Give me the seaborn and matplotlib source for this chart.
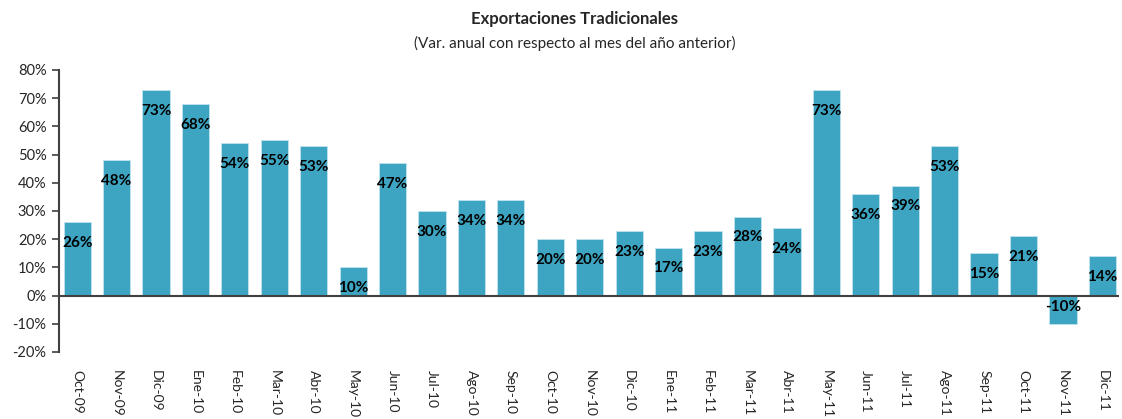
import pandas as pd
import matplotlib.pyplot as plt
import seaborn as sns
from matplotlib.ticker import FuncFormatter

# data
meses = ['Oct-09', 'Nov-09', 'Dic-09', 'Ene-10', 'Feb-10', 'Mar-10', 'Abr-10', 'May-10', 'Jun-10',
         'Jul-10', 'Ago-10', 'Sep-10', 'Oct-10', 'Nov-10', 'Dic-10', 'Ene-11', 'Feb-11', 'Mar-11',
         'Abr-11', 'May-11', 'Jun-11', 'Jul-11', 'Ago-11', 'Sep-11', 'Oct-11', 'Nov-11', 'Dic-11']
variacion = [26, 48, 73, 68, 54, 55, 53, 10, 47, 30, 34, 34, 20, 20, 23, 17, 23, 28, 24,
             73, 36, 39, 53, 15, 21, -10, 14]

df = pd.DataFrame({'mes': meses, 'var': variacion})

sns.set_theme(style="white")
plt.rcParams['font.family'] = ['Lato', 'DejaVu Sans']

fig = plt.figure(figsize=(11.22, 4.19), dpi=100)
ax = fig.add_axes([0.0526, 0.160, 0.945, 0.673])

sns.barplot(data=df, x='mes', y='var', color='#3DA5C2', saturation=1, width=0.69,
            edgecolor='#BFE3EE', linewidth=0.6, ax=ax)

# etiquetas dentro de cada barra
for i, v in enumerate(variacion):
    off = -15 if v >= 0 else 12
    ax.annotate(f'{v}%', (i, v), xytext=(0, off), textcoords='offset points',
                ha='center', va='center', fontsize=11, fontweight='bold', color='black')

ax.axhline(0, color='#404040', linewidth=1.5, zorder=3)
ax.set_ylim(-20, 80)
ax.set_xlim(-0.46, 26.43)
ax.set_yticks(range(-20, 81, 10))
ax.yaxis.set_major_formatter(FuncFormatter(lambda x, _: f'{int(x)}%'))
ax.tick_params(axis='y', which='both', left=True, length=5, width=1.2, color='#404040',
               labelsize=10.5, pad=4)
ax.tick_params(axis='x', bottom=False, labelsize=10, pad=7, labelrotation=270)
ax.set_xlabel('')
ax.set_ylabel('')

for s in ['top', 'right', 'bottom']:
    ax.spines[s].set_visible(False)
ax.spines['left'].set_color('#404040')
ax.spines['left'].set_linewidth(1.5)

fig.text(0.512, 0.955, 'Exportaciones Tradicionales', ha='center', va='center',
         fontsize=12, fontweight='bold')
fig.text(0.512, 0.897, '(Var. anual con respecto al mes del año anterior)', ha='center',
         va='center', fontsize=11)

plt.savefig('out.png', dpi=100)
